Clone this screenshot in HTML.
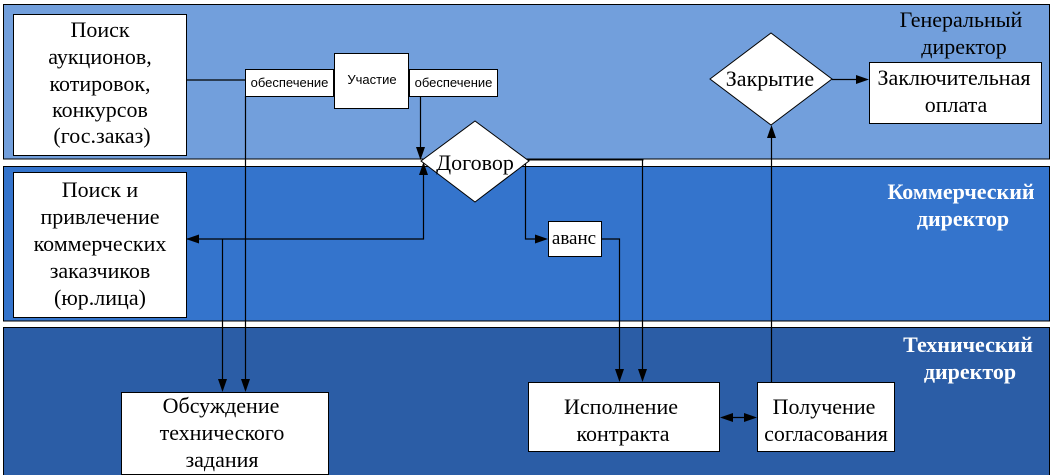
<!DOCTYPE html>
<html><head><meta charset="utf-8"><style>
html,body{margin:0;padding:0;background:#fff;}
svg{display:block;}
.s{font-family:"Liberation Serif","DejaVu Serif",serif;font-size:22px;fill:#000;}
.n{font-family:"Liberation Sans","DejaVu Sans",sans-serif;font-size:13px;fill:#000;}
.b{font-family:"Liberation Serif","DejaVu Serif",serif;font-size:22px;font-weight:bold;fill:#fff;}
</style></head><body>
<svg width="1053" height="475" viewBox="0 0 1053 475" xmlns="http://www.w3.org/2000/svg">
<!-- lanes -->
<rect x="3.5" y="4.5" width="1046" height="154.5" fill="#729fdc" stroke="#000" stroke-width="1"/>
<rect x="3.5" y="166.5" width="1046" height="154.5" fill="#3474cc" stroke="#000" stroke-width="1"/>
<rect x="3.5" y="327.5" width="1046" height="152" fill="#2b5da6" stroke="#000" stroke-width="1"/>

<!-- lane labels -->
<g class="s" font-family="Liberation Serif, DejaVu Serif, serif" text-anchor="middle" fill="#111">
<text x="961" y="27">Генеральный</text>
<text x="964" y="54">директор</text>
</g>
<g class="b" font-family="Liberation Serif, DejaVu Serif, serif" text-anchor="middle">
<text x="961" y="199">Коммерческий</text>
<text x="963" y="226">директор</text>
<text x="968" y="352">Технический</text>
<text x="970" y="379">директор</text>
</g>

<!-- connectors -->
<g stroke="#000" stroke-width="1.2" fill="none">
<line x1="186" y1="80" x2="245" y2="80"/>
<line x1="245.5" y1="96" x2="245.5" y2="380"/>
<line x1="420.5" y1="96" x2="420.5" y2="150"/>
<polyline points="186,239 423.5,239 423.5,172"/>
<line x1="222.5" y1="239" x2="222.5" y2="380"/>
<polyline points="525.5,163 525.5,239 538,239"/>
<polyline points="601,239 619.5,239 619.5,372"/>
<line x1="642.5" y1="160" x2="642.5" y2="372"/>
<line x1="730" y1="417.5" x2="747" y2="417.5"/>
<line x1="771.5" y1="382" x2="771.5" y2="136"/>
<line x1="832" y1="79.5" x2="858" y2="79.5"/>
</g>
<line x1="528" y1="159.5" x2="643.5" y2="159.5" stroke="#000" stroke-width="2"/>

<!-- arrowheads -->
<g fill="#000">
<polygon points="241,379 250,379 245.5,392"/>
<polygon points="218,379 227,379 222.5,392"/>
<polygon points="416,147 425,147 420.5,160"/>
<polygon points="419,175 428,175 423.5,162"/>
<polygon points="199,234.5 199,243.5 186,239"/>
<polygon points="535,234.5 535,243.5 548,239"/>
<polygon points="615,369 624,369 619.5,382"/>
<polygon points="638,369 647,369 642.5,382"/>
<polygon points="733,413 733,422 720,417.5"/>
<polygon points="744,413 744,422 757,417.5"/>
<polygon points="767,138 776,138 771.5,125"/>
<polygon points="856,75 856,84 869,79.5"/>
</g>

<!-- boxes -->
<g fill="#fff" stroke="#000" stroke-width="1">
<rect x="13.5" y="14.5" width="173" height="141"/>
<rect x="245.5" y="69.5" width="88" height="27"/>
<rect x="334.5" y="53.5" width="74" height="55"/>
<rect x="409.5" y="69.5" width="88" height="27"/>
<rect x="13.5" y="172.5" width="173" height="145"/>
<rect x="121.5" y="392.5" width="207" height="82"/>
<rect x="548.5" y="221.5" width="53" height="35"/>
<rect x="528.5" y="382.5" width="191" height="69"/>
<rect x="757.5" y="382.5" width="137" height="69"/>
<rect x="869.5" y="62.5" width="172" height="61"/>
<polygon points="421,161 475,121 529,161 475,202"/>
<polygon points="710,79 771,33 832,79 771,125"/>
</g>

<!-- box texts -->
<g class="s" font-family="Liberation Serif, DejaVu Serif, serif" text-anchor="middle">
<text x="100" y="37">Поиск</text>
<text x="100" y="64">аукционов,</text>
<text x="100" y="91">котировок,</text>
<text x="100" y="117">конкурсов</text>
<text x="102" y="143">(гос.заказ)</text>

<text x="100" y="197">Поиск и</text>
<text x="100" y="224">привлечение</text>
<text x="100" y="251">коммерческих</text>
<text x="100" y="278">заказчиков</text>
<text x="100" y="305">(юр.лица)</text>

<text x="221" y="413">Обсуждение</text>
<text x="222" y="440">технического</text>
<text x="222" y="467">задания</text>

<text x="621" y="414">Исполнение</text>
<text x="623" y="441">контракта</text>

<text x="824" y="414">Получение</text>
<text x="826" y="441">согласования</text>

<text x="954" y="85">Заключительная</text>
<text x="956" y="112">оплата</text>

<text x="475" y="170">Договор</text>
<text x="770" y="86">Закрытие</text>
</g>
<text x="574" y="244" text-anchor="middle" font-family="Liberation Serif, DejaVu Serif, serif" font-size="19" fill="#000">аванс</text>
<g class="n" text-anchor="middle">
<text x="289.5" y="87">обеспечение</text>
<text x="372" y="84">Участие</text>
<text x="453.5" y="87">обеспечение</text>
</g>
</svg>
</body></html>
